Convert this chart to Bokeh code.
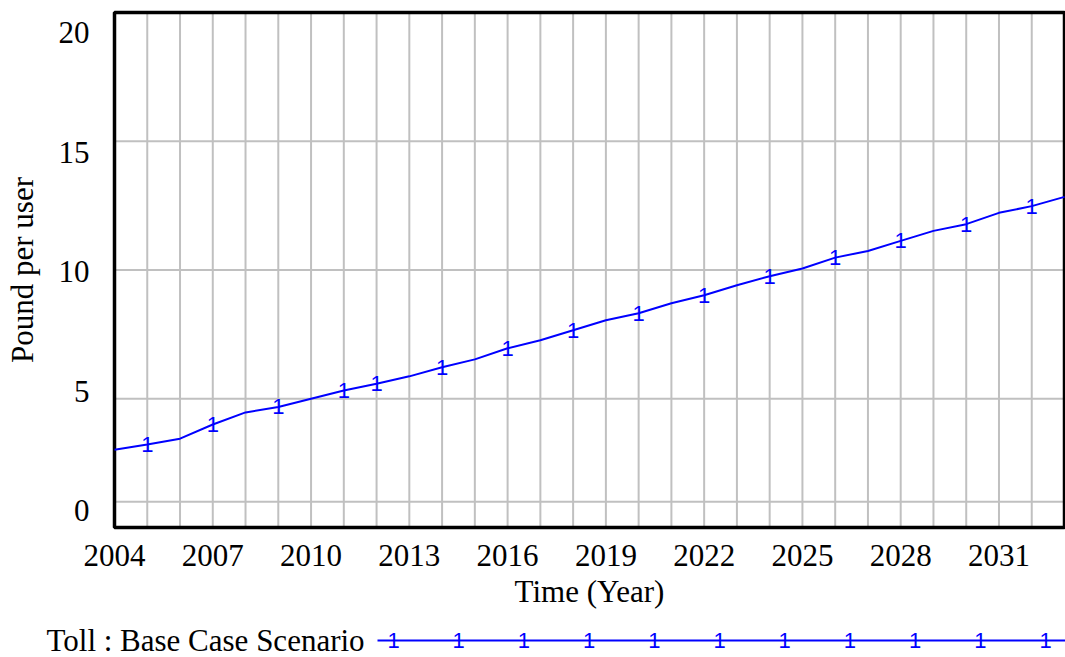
from bokeh.plotting import figure
from bokeh.models import FixedTicker, Range1d
from bokeh.core.properties import value
from bokeh.embed import file_html
from bokeh.resources import INLINE

# ---- data ----
years = list(range(2004, 2034))
toll = [3.02, 3.22, 3.45, 4.00, 4.47, 4.68, 5.00, 5.32, 5.58, 5.87,
        6.22, 6.53, 6.96, 7.27, 7.66, 8.05, 8.32, 8.71, 9.02, 9.41,
        9.76, 10.06, 10.48, 10.74, 11.13, 11.52, 11.78, 12.22, 12.48, 12.84]
marker_years = [2005, 2007, 2009, 2011, 2012, 2014, 2016, 2018, 2020,
                2022, 2024, 2026, 2028, 2030, 2032]
x_tick_years = [2004, 2007, 2010, 2013, 2016, 2019, 2022, 2025, 2028, 2031]
x_grid_years = list(range(2005, 2033))
y_tick_values = [0, 5, 10, 15, 20]
y_grid_values = [1, 5, 10, 15]
series_name = "Toll : Base Case Scenario"

FONT = "Liberation Serif"
FS = "31px"
MFONT = "Liberation Sans"
MFS = "22px"
BLUE = "#0000ff"
GRID = "#c0c0c0"

# ---- geometry (page pixels) ----
W, H = 1065, 657
FL, FR, FT, FB = 114, 1064, 12, 527    # plot box edges
X0, X1, Y0, Y1 = 2004, 2033, 0, 20     # plot box data extent
kx = (X1 - X0) / (FR - FL)
ky = (Y1 - Y0) / (FB - FT)

def dx(px):
    return X0 + (px - FL) * kx

def dy(py):
    return Y0 + (FB - py) * ky

# the frame covers the whole canvas; the chart box sits inside it
p = figure(width=W, height=H,
           x_range=Range1d(dx(0), dx(W)), y_range=Range1d(dy(H), dy(0)),
           output_backend="svg", toolbar_location=None, min_border=0)
p.background_fill_color = "white"
p.border_fill_color = "white"
p.outline_line_color = None
p.grid.visible = False

# grid lines limited to the chart box
p.segment(x0=x_grid_years, y0=[Y0] * len(x_grid_years), x1=x_grid_years,
          y1=[Y1] * len(x_grid_years), line_color=GRID, line_width=2)
p.segment(x0=[X0] * len(y_grid_values), y0=y_grid_values, x1=[X1] * len(y_grid_values),
          y1=y_grid_values, line_color=GRID, line_width=2)

# chart box
p.quad(left=[X0], right=[X1], bottom=[Y0], top=[Y1], fill_color=None,
       line_color="black", line_width=3.5)

# x axis pinned to the bottom of the box
xa = p.xaxis[0]
xa.fixed_location = Y0
xa.bounds = (X0, X1)
xa.ticker = FixedTicker(ticks=x_tick_years)
xa.major_label_overrides = {y: str(y) for y in x_tick_years}
xa.axis_line_color = None
xa.major_tick_line_color = None
xa.minor_tick_line_color = None
xa.major_tick_out = 0
xa.major_tick_in = 0
xa.major_label_standoff = 17
xa.major_label_text_font = FONT
xa.major_label_text_font_size = FS
xa.major_label_text_color = "black"
xa.axis_label = "Time (Year)"
xa.axis_label_text_font = FONT
xa.axis_label_text_font_size = FS
xa.axis_label_text_font_style = "normal"
xa.axis_label_text_color = "black"
xa.axis_label_standoff = 5

# y axis pinned to the left of the box; labels spread evenly inside the box height
ylab_pos = [0.66 + v * 0.928 for v in y_tick_values]
ya = p.yaxis[0]
ya.fixed_location = X0
ya.bounds = (Y0, Y1)
ya.ticker = FixedTicker(ticks=ylab_pos)
ya.major_label_overrides = {pos: str(v) for pos, v in zip(ylab_pos, y_tick_values)}
ya.axis_line_color = None
ya.major_tick_line_color = None
ya.minor_tick_line_color = None
ya.major_tick_out = 0
ya.major_tick_in = 0
ya.major_label_standoff = 25
ya.major_label_text_font = FONT
ya.major_label_text_font_size = FS
ya.major_label_text_color = "black"
ya.axis_label = "Pound per user"
ya.axis_label_text_font = FONT
ya.axis_label_text_font_size = FS
ya.axis_label_text_font_style = "normal"
ya.axis_label_text_color = "black"
ya.axis_label_standoff = 16

# series
p.line(years, toll, line_color=BLUE, line_width=2)
mk_vals = [toll[years.index(y)] for y in marker_years]
p.text(marker_years, mk_vals, text=["1"] * len(marker_years), text_color=BLUE,
       text_font=value(MFONT), text_font_size=MFS,
       text_align="center", text_baseline="middle")

# legend strip below the box
ly = dy(640)
p.text([dx(46)], [ly], text=[series_name], text_color="black", text_font=value(FONT),
       text_font_size=FS, text_align="left", text_baseline="middle")
p.line([dx(377), dx(W)], [ly, ly], line_color=BLUE, line_width=2)
lmx = [dx(393 + 65.2 * k) for k in range(11)]
p.text(lmx, [ly] * len(lmx), text=["1"] * len(lmx), text_color=BLUE,
       text_font=value(MFONT), text_font_size=MFS,
       text_align="center", text_baseline="middle")

open("out.html", "w").write(file_html(p, INLINE))
